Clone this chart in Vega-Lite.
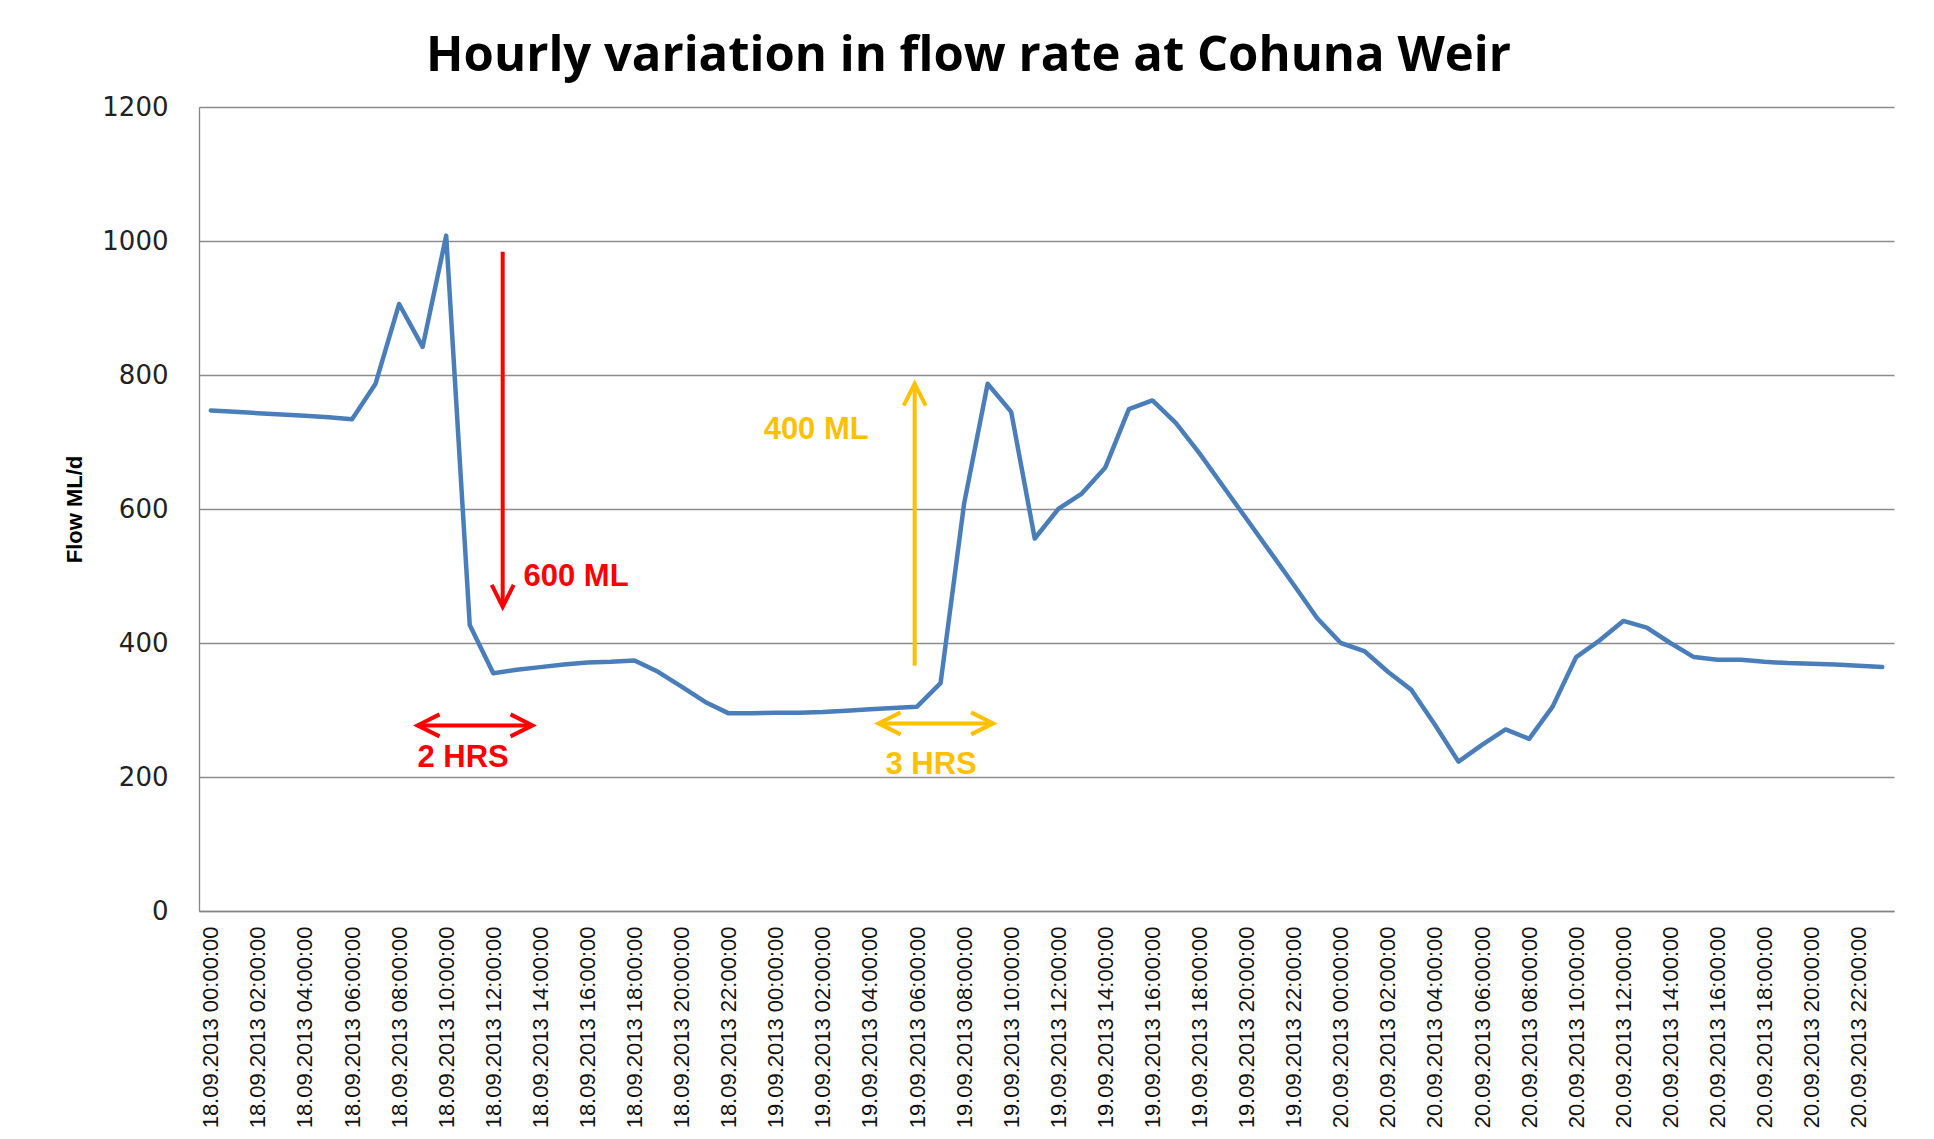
{
  "$schema": "https://vega.github.io/schema/vega-lite/v6.json",
  "width": 1695,
  "height": 804,
  "autosize": {"type": "none"},
  "padding": {"left": 199, "top": 107, "right": 40, "bottom": 228},
  "background": "white",
  "view": {"stroke": null},
  "title": {"text": "Hourly variation in flow rate at Cohuna Weir", "font": "Open Sans", "fontSize": 49, "fontWeight": "bold", "color": "#000000", "anchor": "middle", "offset": 13, "dx": -78},
  "datasets": {
    "flow": [
      {"time": "2013-09-18T00:00:00", "flow": 747}, {"time": "2013-09-18T01:00:00", "flow": 745}, {"time": "2013-09-18T02:00:00", "flow": 743}, {"time": "2013-09-18T03:00:00", "flow": 741},
      {"time": "2013-09-18T04:00:00", "flow": 739}, {"time": "2013-09-18T05:00:00", "flow": 737}, {"time": "2013-09-18T06:00:00", "flow": 734}, {"time": "2013-09-18T07:00:00", "flow": 787},
      {"time": "2013-09-18T08:00:00", "flow": 906}, {"time": "2013-09-18T09:00:00", "flow": 842}, {"time": "2013-09-18T10:00:00", "flow": 1008}, {"time": "2013-09-18T11:00:00", "flow": 427},
      {"time": "2013-09-18T12:00:00", "flow": 355}, {"time": "2013-09-18T13:00:00", "flow": 360}, {"time": "2013-09-18T14:00:00", "flow": 364}, {"time": "2013-09-18T15:00:00", "flow": 368},
      {"time": "2013-09-18T16:00:00", "flow": 371}, {"time": "2013-09-18T17:00:00", "flow": 372}, {"time": "2013-09-18T18:00:00", "flow": 374}, {"time": "2013-09-18T19:00:00", "flow": 357},
      {"time": "2013-09-18T20:00:00", "flow": 335}, {"time": "2013-09-18T21:00:00", "flow": 312}, {"time": "2013-09-18T22:00:00", "flow": 295}, {"time": "2013-09-18T23:00:00", "flow": 295},
      {"time": "2013-09-19T00:00:00", "flow": 296}, {"time": "2013-09-19T01:00:00", "flow": 296}, {"time": "2013-09-19T02:00:00", "flow": 297}, {"time": "2013-09-19T03:00:00", "flow": 299},
      {"time": "2013-09-19T04:00:00", "flow": 301}, {"time": "2013-09-19T05:00:00", "flow": 303}, {"time": "2013-09-19T06:00:00", "flow": 305}, {"time": "2013-09-19T07:00:00", "flow": 340},
      {"time": "2013-09-19T08:00:00", "flow": 608}, {"time": "2013-09-19T09:00:00", "flow": 787}, {"time": "2013-09-19T10:00:00", "flow": 745}, {"time": "2013-09-19T11:00:00", "flow": 556},
      {"time": "2013-09-19T12:00:00", "flow": 600}, {"time": "2013-09-19T13:00:00", "flow": 623}, {"time": "2013-09-19T14:00:00", "flow": 662}, {"time": "2013-09-19T15:00:00", "flow": 749},
      {"time": "2013-09-19T16:00:00", "flow": 762}, {"time": "2013-09-19T17:00:00", "flow": 728}, {"time": "2013-09-19T18:00:00", "flow": 683}, {"time": "2013-09-19T19:00:00", "flow": 634},
      {"time": "2013-09-19T20:00:00", "flow": 585}, {"time": "2013-09-19T21:00:00", "flow": 536}, {"time": "2013-09-19T22:00:00", "flow": 487}, {"time": "2013-09-19T23:00:00", "flow": 437},
      {"time": "2013-09-20T00:00:00", "flow": 400}, {"time": "2013-09-20T01:00:00", "flow": 388}, {"time": "2013-09-20T02:00:00", "flow": 357}, {"time": "2013-09-20T03:00:00", "flow": 330},
      {"time": "2013-09-20T04:00:00", "flow": 278}, {"time": "2013-09-20T05:00:00", "flow": 223}, {"time": "2013-09-20T06:00:00", "flow": 248}, {"time": "2013-09-20T07:00:00", "flow": 271},
      {"time": "2013-09-20T08:00:00", "flow": 257}, {"time": "2013-09-20T09:00:00", "flow": 305}, {"time": "2013-09-20T10:00:00", "flow": 379}, {"time": "2013-09-20T11:00:00", "flow": 404},
      {"time": "2013-09-20T12:00:00", "flow": 433}, {"time": "2013-09-20T13:00:00", "flow": 423}, {"time": "2013-09-20T14:00:00", "flow": 400}, {"time": "2013-09-20T15:00:00", "flow": 379},
      {"time": "2013-09-20T16:00:00", "flow": 375}, {"time": "2013-09-20T17:00:00", "flow": 375}, {"time": "2013-09-20T18:00:00", "flow": 372}, {"time": "2013-09-20T19:00:00", "flow": 370},
      {"time": "2013-09-20T20:00:00", "flow": 369}, {"time": "2013-09-20T21:00:00", "flow": 368}, {"time": "2013-09-20T22:00:00", "flow": 366}, {"time": "2013-09-20T23:00:00", "flow": 364}
    ],
    "arrows": [
      {"group": "drop", "t": "2013-09-18T12:24:00", "v": 984, "t2": "2013-09-18T12:24:00", "v2": 454},
      {"group": "drop", "t": "2013-09-18T08:47:00", "v": 277, "t2": "2013-09-18T13:40:00", "v2": 277},
      {"group": "rise", "t": "2013-09-19T05:54:00", "v": 366, "t2": "2013-09-19T05:54:00", "v2": 787},
      {"group": "rise", "t": "2013-09-19T04:22:00", "v": 280, "t2": "2013-09-19T09:14:00", "v2": 280}
    ],
    "heads": [
      {"group": "drop", "dir": "down", "t": "2013-09-18T12:24:00", "v": 454},
      {"group": "drop", "dir": "left", "t": "2013-09-18T08:47:00", "v": 277},
      {"group": "drop", "dir": "right", "t": "2013-09-18T13:40:00", "v": 277},
      {"group": "rise", "dir": "up", "t": "2013-09-19T05:54:00", "v": 787},
      {"group": "rise", "dir": "left", "t": "2013-09-19T04:22:00", "v": 280},
      {"group": "rise", "dir": "right", "t": "2013-09-19T09:14:00", "v": 280}
    ],
    "labels": [
      {"group": "drop", "text": "600 ML", "t": "2013-09-18T15:31:00", "v": 499},
      {"group": "drop", "text": "2 HRS", "t": "2013-09-18T10:43:00", "v": 228},
      {"group": "rise", "text": "400 ML", "t": "2013-09-19T01:43:00", "v": 718},
      {"group": "rise", "text": "3 HRS", "t": "2013-09-19T06:36:00", "v": 218}
    ]
  },
  "layer": [
    {
      "data": {"name": "flow"},
      "mark": {"type": "line", "color": "#4A7EBB", "strokeWidth": 4.5, "strokeJoin": "round", "strokeCap": "round"},
      "encoding": {
        "x": {
          "field": "time", "type": "temporal",
          "scale": {"domain": [{"year": 2013, "month": 9, "date": 17, "hours": 23, "minutes": 30}, {"year": 2013, "month": 9, "date": 20, "hours": 23, "minutes": 30}]},
          "axis": {
            "title": null, "format": "%d.%m.%Y %H:%M:%S",
            "values": [
              {"year": 2013, "month": 9, "date": 18, "hours": 0}, {"year": 2013, "month": 9, "date": 18, "hours": 2}, {"year": 2013, "month": 9, "date": 18, "hours": 4}, {"year": 2013, "month": 9, "date": 18, "hours": 6},
              {"year": 2013, "month": 9, "date": 18, "hours": 8}, {"year": 2013, "month": 9, "date": 18, "hours": 10}, {"year": 2013, "month": 9, "date": 18, "hours": 12}, {"year": 2013, "month": 9, "date": 18, "hours": 14},
              {"year": 2013, "month": 9, "date": 18, "hours": 16}, {"year": 2013, "month": 9, "date": 18, "hours": 18}, {"year": 2013, "month": 9, "date": 18, "hours": 20}, {"year": 2013, "month": 9, "date": 18, "hours": 22},
              {"year": 2013, "month": 9, "date": 19, "hours": 0}, {"year": 2013, "month": 9, "date": 19, "hours": 2}, {"year": 2013, "month": 9, "date": 19, "hours": 4}, {"year": 2013, "month": 9, "date": 19, "hours": 6},
              {"year": 2013, "month": 9, "date": 19, "hours": 8}, {"year": 2013, "month": 9, "date": 19, "hours": 10}, {"year": 2013, "month": 9, "date": 19, "hours": 12}, {"year": 2013, "month": 9, "date": 19, "hours": 14},
              {"year": 2013, "month": 9, "date": 19, "hours": 16}, {"year": 2013, "month": 9, "date": 19, "hours": 18}, {"year": 2013, "month": 9, "date": 19, "hours": 20}, {"year": 2013, "month": 9, "date": 19, "hours": 22},
              {"year": 2013, "month": 9, "date": 20, "hours": 0}, {"year": 2013, "month": 9, "date": 20, "hours": 2}, {"year": 2013, "month": 9, "date": 20, "hours": 4}, {"year": 2013, "month": 9, "date": 20, "hours": 6},
              {"year": 2013, "month": 9, "date": 20, "hours": 8}, {"year": 2013, "month": 9, "date": 20, "hours": 10}, {"year": 2013, "month": 9, "date": 20, "hours": 12}, {"year": 2013, "month": 9, "date": 20, "hours": 14},
              {"year": 2013, "month": 9, "date": 20, "hours": 16}, {"year": 2013, "month": 9, "date": 20, "hours": 18}, {"year": 2013, "month": 9, "date": 20, "hours": 20}, {"year": 2013, "month": 9, "date": 20, "hours": 22}
            ],
            "labelAngle": -90, "labelAlign": "right", "labelBaseline": "middle",
            "labelFont": "Liberation Sans", "labelFontSize": 22, "labelColor": "#111111", "labelPadding": 15, "labelLimit": 0,
            "ticks": false, "grid": false, "domainColor": "#868686", "domainWidth": 1.3,
            "labelOverlap": false, "labelFlush": false
          }
        },
        "y": {
          "field": "flow", "type": "quantitative",
          "scale": {"domain": [0, 1200], "nice": false},
          "axis": {
            "title": "Flow ML/d", "values": [0, 200, 400, 600, 800, 1000, 1200], "format": "d",
            "labelFont": "DejaVu Sans", "labelFontSize": 26, "labelColor": "#222222", "labelPadding": 31,
            "ticks": false, "domainColor": "#868686", "domainWidth": 1.3,
            "gridColor": "#8C8C8C", "gridWidth": 1.3,
            "titleFont": "Liberation Sans", "titleFontSize": 22, "titleFontWeight": "bold", "titleColor": "#000000",
            "titleX": -125, "titleY": 402, "titleAngle": -90, "titleAlign": "center", "titleBaseline": "middle"
          }
        }
      }
    },
    {
      "data": {"name": "arrows"},
      "mark": {"type": "rule", "strokeWidth": 4},
      "encoding": {
        "x": {"field": "t", "type": "temporal"},
        "x2": {"field": "t2"},
        "y": {"field": "v", "type": "quantitative"},
        "y2": {"field": "v2"},
        "color": {"field": "group", "type": "nominal", "scale": {"domain": ["drop", "rise"], "range": ["#FF0000", "#FFC000"]}, "legend": null}
      }
    },
    {
      "data": {"name": "heads"},
      "transform": [{"filter": "datum.dir == 'down'"}],
      "mark": {"type": "point", "shape": "M -0.5 -1 L 0 0 L 0.5 -1", "size": 1936, "filled": false, "strokeWidth": 4, "opacity": 1},
      "encoding": {
        "x": {"field": "t", "type": "temporal"},
        "y": {"field": "v", "type": "quantitative"},
        "color": {"field": "group", "type": "nominal", "legend": null}
      }
    },
    {
      "data": {"name": "heads"},
      "transform": [{"filter": "datum.dir == 'up'"}],
      "mark": {"type": "point", "shape": "M -0.5 1 L 0 0 L 0.5 1", "size": 1936, "filled": false, "strokeWidth": 4, "opacity": 1},
      "encoding": {
        "x": {"field": "t", "type": "temporal"},
        "y": {"field": "v", "type": "quantitative"},
        "color": {"field": "group", "type": "nominal", "legend": null}
      }
    },
    {
      "data": {"name": "heads"},
      "transform": [{"filter": "datum.dir == 'left'"}],
      "mark": {"type": "point", "shape": "M 1 -0.5 L 0 0 L 1 0.5", "size": 1936, "filled": false, "strokeWidth": 4, "opacity": 1},
      "encoding": {
        "x": {"field": "t", "type": "temporal"},
        "y": {"field": "v", "type": "quantitative"},
        "color": {"field": "group", "type": "nominal", "legend": null}
      }
    },
    {
      "data": {"name": "heads"},
      "transform": [{"filter": "datum.dir == 'right'"}],
      "mark": {"type": "point", "shape": "M -1 -0.5 L 0 0 L -1 0.5", "size": 1936, "filled": false, "strokeWidth": 4, "opacity": 1},
      "encoding": {
        "x": {"field": "t", "type": "temporal"},
        "y": {"field": "v", "type": "quantitative"},
        "color": {"field": "group", "type": "nominal", "legend": null}
      }
    },
    {
      "data": {"name": "labels"},
      "mark": {"type": "text", "font": "Liberation Sans", "fontWeight": "bold", "fontSize": 31, "align": "center", "baseline": "middle"},
      "encoding": {
        "x": {"field": "t", "type": "temporal"},
        "y": {"field": "v", "type": "quantitative"},
        "text": {"field": "text"},
        "color": {"field": "group", "type": "nominal", "legend": null}
      }
    }
  ]
}
